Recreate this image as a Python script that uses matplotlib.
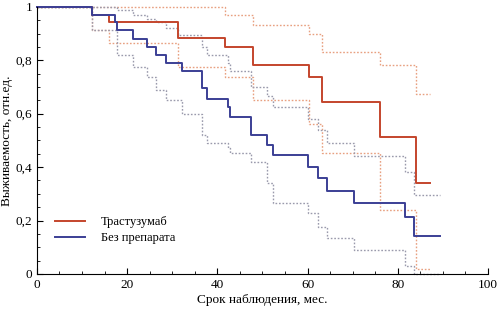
import matplotlib
matplotlib.use("Agg")
import matplotlib.pyplot as plt
from matplotlib.ticker import MultipleLocator, FuncFormatter

# Kaplan-Meier: Trastuzumab (step times, survival after the step)
tr_t = [0, 12.1, 16.0, 31.3, 41.6, 48.0, 60.4, 63.2, 76.0, 84.1, 87.2]
tr_s = [1.0, 0.970, 0.944, 0.884, 0.850, 0.783, 0.738, 0.644, 0.513, 0.341, 0.341]
tr_up_t = [0, 41.6, 48.0, 60.4, 63.2, 76.0, 84.1, 87.2]
tr_up_s = [1.0, 0.970, 0.933, 0.900, 0.830, 0.783, 0.674, 0.674]
tr_lo_t = [0, 12.1, 16.0, 31.3, 41.6, 48.0, 60.4, 63.2, 76.0, 84.1, 87.2]
tr_lo_s = [1.0, 0.914, 0.865, 0.775, 0.738, 0.650, 0.560, 0.453, 0.240, 0.020, 0.020]

# Kaplan-Meier: no drug
bp_t = [0, 12.1, 17.2, 17.8, 21.4, 24.4, 26.4, 28.6, 32.2, 36.6, 37.7, 42.3, 42.7,
        47.4, 50.9, 52.4, 60.1, 62.3, 64.3, 70.3, 81.7, 83.5, 89.4]
bp_s = [1.0, 0.970, 0.944, 0.914, 0.880, 0.850, 0.820, 0.790, 0.760, 0.697, 0.655, 0.625, 0.588,
        0.520, 0.483, 0.446, 0.401, 0.360, 0.311, 0.266, 0.213, 0.143, 0.143]
bp_up_t = [0, 17.8, 21.4, 24.4, 26.4, 28.6, 31.3, 36.6, 37.7, 42.3, 42.7,
           47.4, 50.9, 52.4, 60.1, 62.3, 64.3, 70.3, 81.7, 83.5, 89.4]
bp_up_s = [1.0, 0.99, 0.97, 0.955, 0.944, 0.92, 0.895, 0.85, 0.82, 0.79, 0.76,
           0.70, 0.665, 0.625, 0.58, 0.54, 0.49, 0.44, 0.38, 0.296, 0.296]
bp_lo_t = [0, 12.1, 17.8, 21.4, 24.4, 26.4, 28.6, 32.2, 36.6, 37.7, 42.3, 42.7,
           47.4, 50.9, 52.4, 60.1, 62.3, 64.3, 70.3, 81.7, 83.5, 89.4]
bp_lo_s = [1.0, 0.914, 0.820, 0.775, 0.738, 0.690, 0.650, 0.600, 0.520, 0.490, 0.470, 0.453,
           0.420, 0.340, 0.266, 0.228, 0.176, 0.135, 0.090, 0.030, 0.0, 0.0]

red = "#c4452c"
blue = "#3b3f95"
red_ci = "#e8a080"
blue_ci = "#9a9aac"

plt.rcParams["font.family"] = ["Liberation Serif", "DejaVu Serif"]

fig = plt.figure(figsize=(4.99, 3.12), dpi=100)
ax = fig.add_axes([0.074, 0.122, 0.904, 0.856])

dots = (0, (1.2, 1.3))
ax.step(tr_up_t, tr_up_s, where="post", color=red_ci, lw=1.0, ls=dots, clip_on=False)
ax.step(tr_lo_t, tr_lo_s, where="post", color=red_ci, lw=1.0, ls=dots, clip_on=False)
ax.step(bp_up_t, bp_up_s, where="post", color=blue_ci, lw=1.0, ls=dots, clip_on=False)
ax.step(bp_lo_t, bp_lo_s, where="post", color=blue_ci, lw=1.0, ls=dots, clip_on=False)
ax.step(tr_t, tr_s, where="post", color=red, lw=1.4, label="Трастузумаб", clip_on=False)
ax.step(bp_t, bp_s, where="post", color=blue, lw=1.4, label="Без препарата", clip_on=False)

ax.set_xlim(0, 100)
ax.set_ylim(0, 1)
ax.spines["top"].set_visible(False)
ax.spines["right"].set_visible(False)
ax.xaxis.set_major_locator(MultipleLocator(20))
ax.xaxis.set_minor_locator(MultipleLocator(5))
ax.yaxis.set_major_locator(MultipleLocator(0.2))
ax.yaxis.set_minor_locator(MultipleLocator(0.05))
ax.yaxis.set_major_formatter(FuncFormatter(lambda v, p: f"{v:g}".replace(".", ",")))
ax.tick_params(which="both", direction="in", labelsize=9.5)
ax.tick_params(which="major", length=4)
ax.tick_params(which="minor", length=2)

ax.set_xlabel("Срок наблюдения, мес.", fontsize=9.5, labelpad=2)
ax.set_ylabel("Выживаемость, отн.ед.", fontsize=9.5, labelpad=2)

ax.legend(loc="lower left", bbox_to_anchor=(0.015, 0.07), frameon=False, fontsize=9,
          handlelength=2.4, handletextpad=1.3, labelspacing=0.3)

fig.savefig("out.png", dpi=100)
